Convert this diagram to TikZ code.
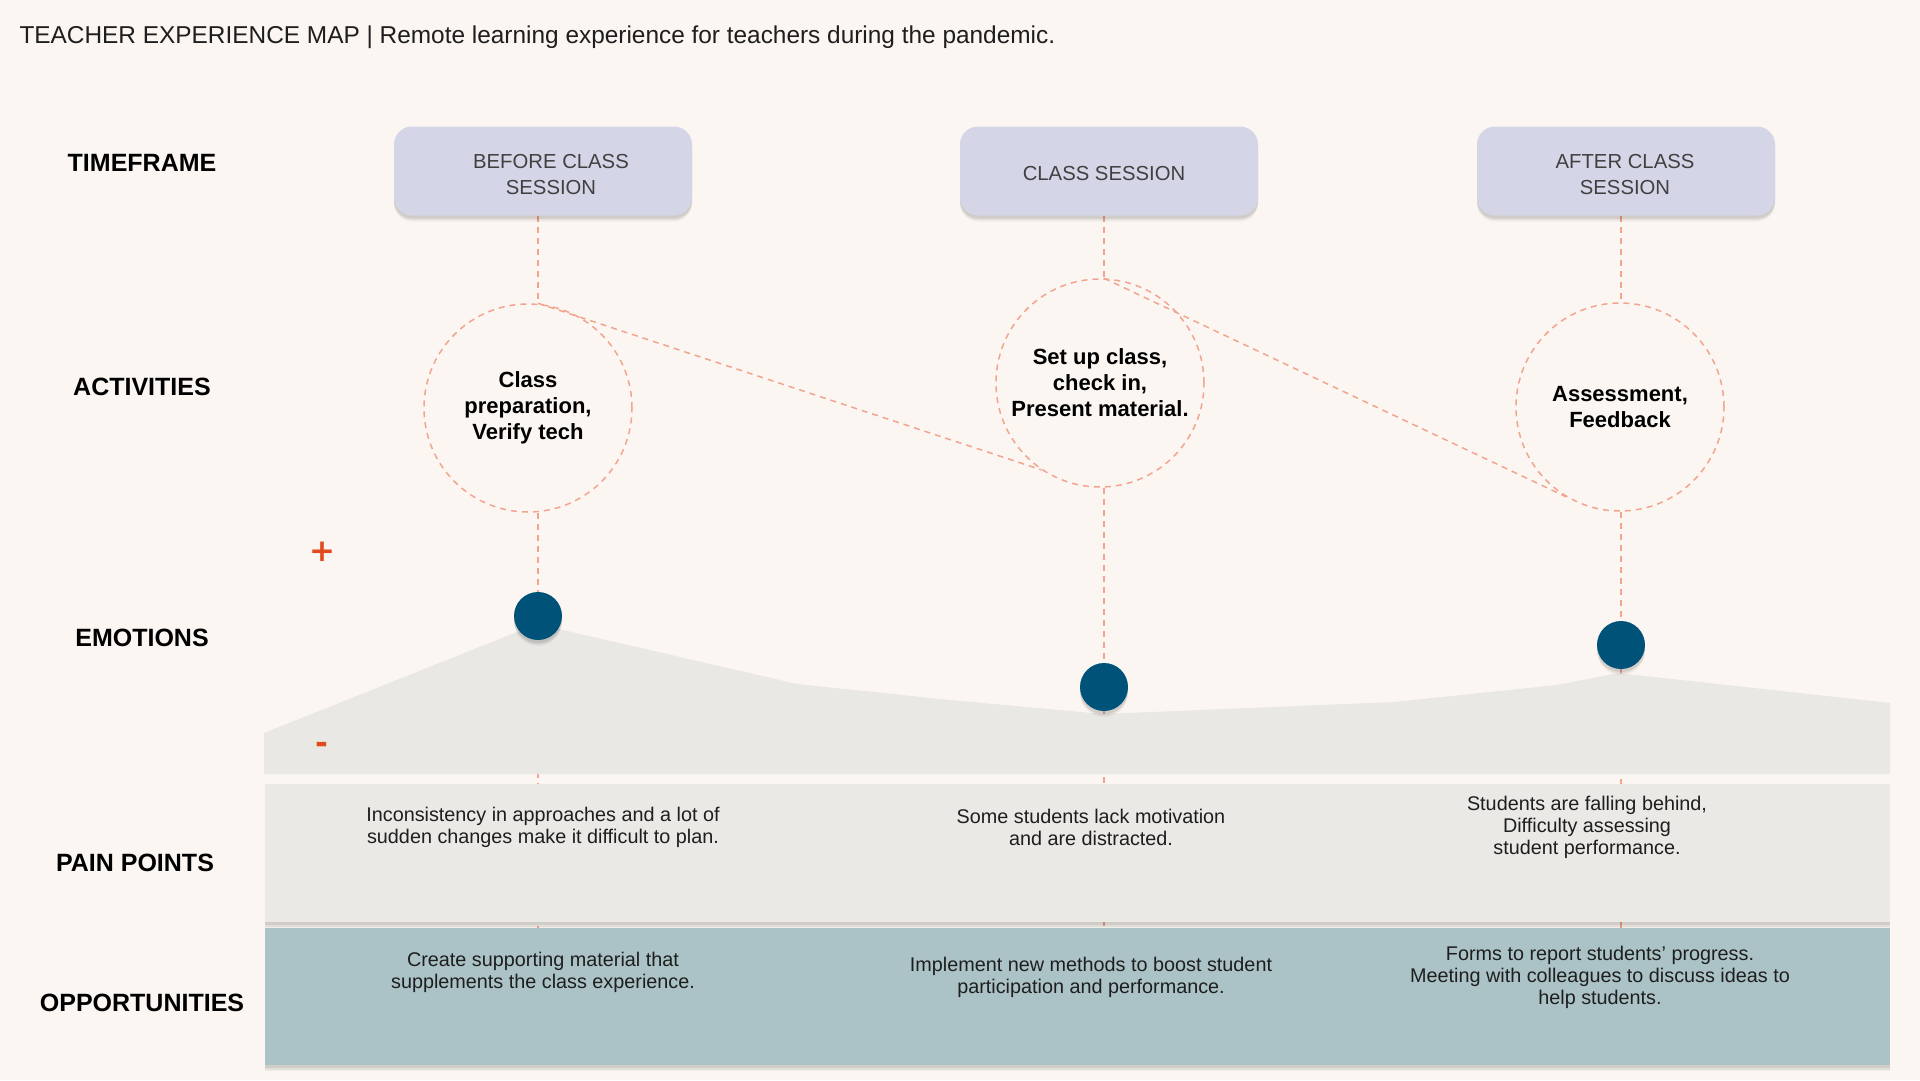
\documentclass[tikz,border=0pt]{standalone}
\usepackage{fontspec}
\setmainfont{Liberation Sans}
\newfontfamily\signfont{DejaVu Sans}
\usetikzlibrary{shadows}
\definecolor{bgc}{HTML}{FBF6F2}
\definecolor{lav}{HTML}{D4D6E7}
\definecolor{salmon}{HTML}{F2A58E}
\definecolor{dotc}{HTML}{005278}
\definecolor{emoc}{HTML}{EAE8E4}
\definecolor{painc}{HTML}{EAE9E5}
\definecolor{oppc}{HTML}{ABC3C7}
\definecolor{orangec}{HTML}{E04A1D}
\definecolor{txt}{HTML}{1E1E1E}
\pgfdeclarelayer{bglayer}
\pgfdeclarelayer{lines}
\pgfdeclarelayer{area}
\pgfsetlayers{bglayer,lines,area,main}
\tikzset{
  softshadow/.style={
    drop shadow={shadow xshift=0pt, shadow yshift=-6pt, fill=black, opacity=0.04},
    drop shadow={shadow xshift=0pt, shadow yshift=-4.5pt, fill=black, opacity=0.06},
    drop shadow={shadow xshift=0pt, shadow yshift=-3pt, fill=black, opacity=0.08}},
  rowlabel/.style={font=\fontsize{25}{30}\selectfont\bfseries, text=black},
  tfbox/.style={rectangle, rounded corners=18pt, fill=lav, minimum width=298pt, minimum height=89pt, softshadow},
  tftext/.style={align=center, text=txt!85, font=\fontsize{20.3}{26}\selectfont},
  actcircle/.style={circle, draw=salmon, line width=1.5pt, dash pattern=on 6pt off 5pt,
    minimum size=208pt, inner sep=0pt, align=center, font=\fontsize{22}{26}\selectfont\bfseries, text=black},
  emodot/.style={circle, fill=dotc, minimum size=48pt, inner sep=0pt, softshadow},
  dl/.style={draw=salmon, line width=1.5pt, dash pattern=on 6pt off 5pt},
  body/.style={align=center, text=txt, font=\fontsize{19.8}{22}\selectfont},
  band/.style={rectangle, inner sep=0pt, softshadow},
  sign/.style={text=orangec, font=\fontsize{31}{31}\selectfont\signfont\bfseries}
}
\begin{document}
\begin{tikzpicture}[x=1pt,y=-1pt]
\begin{pgfonlayer}{bglayer}
\fill[bgc] (0,0) rectangle (1920,1080);
\end{pgfonlayer}
\useasboundingbox (0,0) rectangle (1920,1080);

% title
\node[anchor=west, text=txt, font=\fontsize{24.4}{28}\selectfont] (title) at (16,37)
  {TEACHER EXPERIENCE MAP | Remote learning experience for teachers during the pandemic.};

% row labels
\node[rowlabel] (lt) at (142,163) {TIMEFRAME};
\node[rowlabel] (la) at (142,387) {ACTIVITIES};
\node[rowlabel] (le) at (142,638) {EMOTIONS};
\node[rowlabel] (lp) at (135,863) {PAIN POINTS};
\node[rowlabel] (lo) at (142,1003) {OPPORTUNITIES};

% timeframe boxes
\node[tfbox] (t1) at (543,171) {};
\node[tfbox] (t2) at (1109,171) {};
\node[tfbox] (t3) at (1626,171) {};
\node[tftext] (t1x) at (551,175) {BEFORE CLASS\\SESSION};
\node[tftext] (t2x) at (1104,174) {CLASS SESSION};
\node[tftext] (t3x) at (1625,175) {AFTER CLASS\\SESSION};

% activity circles
\node[actcircle] (a1) at (528,408) {Class\\preparation,\\Verify tech};
\node[actcircle] (a2) at (1100,383) {Set up class,\\check in,\\Present material.};
\node[actcircle] (a3) at (1620,407) {Assessment,\\Feedback};

% pain points and opportunities bands
\node[band, fill=painc, minimum width=1625pt, minimum height=138pt, anchor=north west] (pp) at (265,784) {};
\node[band, fill=oppc, minimum width=1625pt, minimum height=137pt, anchor=north west] (op) at (265,928) {};

% emotion dots
\node[emodot] (d1) at (538,616) {};
\node[emodot] (d2) at (1104,687) {};
\node[emodot] (d3) at (1621,645) {};

% signs
\node[sign] (plus) at (322,552) {+};
\node[sign] (minus) at (322,748) {-};

% texts
\node[body] (p1) at (543,827) {Inconsistency in approaches and a lot of\\sudden changes make it difficult to plan.};
\node[body] (p2) at (1091,827) {Some students lack motivation\\and are distracted.};
\node[body] (p3) at (1587,827) {Students are falling behind,\\Difficulty assessing\\student performance.};
\node[body] (o1) at (543,972) {Create supporting material that\\supplements the class experience.};
\node[body] (o2) at (1091,977) {Implement new methods to boost student\\participation and performance.};
\node[body] (o3) at (1600,977) {Forms to report students’ progress.\\Meeting with colleagues to discuss ideas to\\help students.};

% connectors
\begin{pgfonlayer}{lines}
\draw[dl] (t1.south -| d1) -- (a1.north -| d1);
\draw[dl] (a1.south -| d1) -- (d1);
\draw[dl] (d1) -- (d1 |- op.north);
\draw[dl] (t2.south -| d2) -- (a2.north -| d2);
\draw[dl] (a2.south -| d2) -- (d2);
\draw[dl] (d2) -- (d2 |- op.north);
\draw[dl] (t3.south -| d3) -- (a3.north -| d3);
\draw[dl] (a3.south -| d3) -- (d3);
\draw[dl] (d3) -- (d3 |- op.north);
\draw[dl] (a1.north -| d1) -- (a2.236);
\draw[dl] (a2.north -| d2) -- (a3.239);
\end{pgfonlayer}

% emotion curve area
\begin{pgfonlayer}{area}
\fill[emoc] (264,733) -- (537,624) -- (797,684) -- (950,700) -- (1103,714) -- (1394,702)
  -- (1557,685) -- (1618,673) -- (1890,703) -- (1890,774) -- (264,774) -- cycle;
\end{pgfonlayer}
\end{tikzpicture}
\end{document}
